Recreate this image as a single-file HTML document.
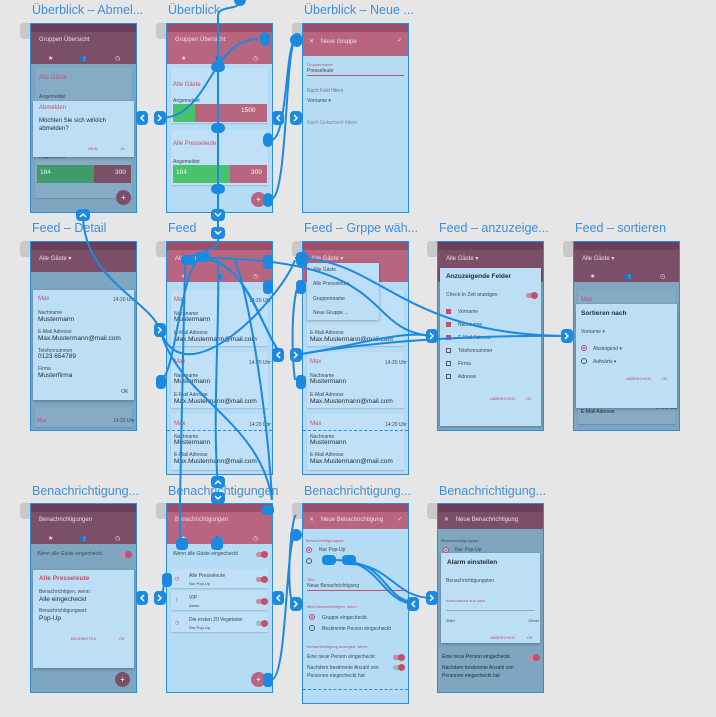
<!DOCTYPE html>
<html><head><meta charset="utf-8"><style>
*{margin:0;padding:0;box-sizing:border-box}
body{width:716px;height:717px;background:#e6e6e6;position:relative;overflow:hidden;font-family:"Liberation Sans","DejaVu Sans",sans-serif}
.t{position:absolute;color:#3a8fe0;font-size:12.5px;white-space:nowrap}
.g{position:absolute;width:30px;height:16px;background:#c9c9c9;border-radius:4px}
.s{position:absolute;width:107px;border:1px solid #2a8ee0;background:#b6dbf4;overflow:hidden}
.s.d{background:#7ea6c1}
.sb{position:absolute;left:0;right:0;top:0;height:8px;background:#9d4f69}
.d .sb{background:#6b3f59}
.hd{position:absolute;left:0;right:0;top:0;height:40px;background:#b8667f}
.d .hd{background:#7c4f69}
.ht{position:absolute;left:8px;top:13px;font-size:6px;color:#f0dde5}
.tab{position:absolute;top:31px;font-size:6px;color:#f0dde5}
.c{position:absolute;left:4px;right:4px;background:#bfe0f7;box-shadow:0 1px 1px rgba(0,0,0,.15)}
.d .c{background:#86abc5}
.dl{position:absolute;left:2px;right:2px;background:#bcdff6;box-shadow:0 1px 3px rgba(0,0,0,.3)}
.x{position:absolute;font-size:5px;color:#3d4a55;white-space:nowrap}
.m{position:absolute;font-size:6.5px;color:#1e2a35;white-space:nowrap}
.r{color:#c0506e}
.fab{position:absolute;width:15px;height:15px;border-radius:50%;background:#b8667f;color:#fff;font-size:8px;text-align:center;line-height:15px}
.d .fab{background:#7c4f69}
.bar{position:absolute;height:18px}
.tg{position:absolute;width:11px;height:5px;border-radius:3px;background:#c98aa0}
.tg:after{content:"";position:absolute;right:-1px;top:-1px;width:7px;height:7px;border-radius:50%;background:#c0506e}
.ck{position:absolute;width:5px;height:5px;border:1px solid #556}
.ck.on{background:#c0506e;border-color:#c0506e}
.rd{position:absolute;width:6px;height:6px;border-radius:50%;border:1px solid #556}
.rd.on{border-color:#c0506e;box-shadow:inset 0 0 0 1px #bcdff6,inset 0 0 0 3px #c0506e}
</style></head><body>

<!-- titles -->
<div class="t" style="left:32px;top:3px">Überblick – Abmel...</div>
<div class="t" style="left:168px;top:3px">Überblick</div>
<div class="t" style="left:304px;top:3px">Überblick – Neue ...</div>
<div class="t" style="left:32px;top:221px">Feed – Detail</div>
<div class="t" style="left:168px;top:221px">Feed</div>
<div class="t" style="left:304px;top:221px">Feed – Grppe wäh...</div>
<div class="t" style="left:439px;top:221px">Feed – anzuzeige...</div>
<div class="t" style="left:575px;top:221px">Feed – sortieren</div>
<div class="t" style="left:32px;top:484px">Benachrichtigung...</div>
<div class="t" style="left:168px;top:484px">Benachrichtigungen</div>
<div class="t" style="left:304px;top:484px">Benachrichtigung...</div>
<div class="t" style="left:439px;top:484px">Benachrichtigung...</div>

<!-- gray placeholders -->
<div class="g" style="left:20px;top:23px"></div><div class="g" style="left:156px;top:23px"></div><div class="g" style="left:292px;top:23px"></div>
<div class="g" style="left:20px;top:241px"></div><div class="g" style="left:156px;top:241px"></div><div class="g" style="left:292px;top:241px"></div><div class="g" style="left:427px;top:241px"></div><div class="g" style="left:563px;top:241px"></div>
<div class="g" style="left:20px;top:503px"></div><div class="g" style="left:156px;top:503px"></div><div class="g" style="left:292px;top:503px"></div><div class="g" style="left:427px;top:503px"></div>

<!-- Row1 A -->
<div class="s d" style="left:30px;top:23px;height:190px">
 <div class="hd"></div><div class="sb"></div><div class="ht">Gruppen Übersicht</div>
 <div class="tab" style="left:17px">★</div><div class="tab" style="left:48px">👥</div><div class="tab" style="left:84px">◷</div>
 <div class="c" style="top:44px;height:130px"></div>
 <div class="x r" style="left:8px;top:51px;font-size:6px">Alle Gäste</div>
 <div class="x" style="left:8px;top:70px">Angemeldet</div>
 <div class="x" style="left:8px;top:130px">Angemeldet</div>
 <div class="bar" style="left:6px;top:141px;width:57px;background:#3f9c6a"></div><div class="bar" style="left:63px;top:141px;width:37px;background:#7c4f69"></div>
 <div class="m" style="left:9px;top:145px;color:#cfe">184</div><div class="m" style="left:84px;top:145px;color:#eee">300</div>
 <div class="dl" style="top:77px;height:56px"></div>
 <div class="x r" style="left:8px;top:81px;font-size:6px">Abmelden</div>
 <div class="m" style="left:8px;top:94px;font-size:6px">Möchten Sie sich wirklich</div>
 <div class="m" style="left:8px;top:102px;font-size:6px">abmelden?</div>
 <div class="x r" style="left:57px;top:122px;font-size:4px">NEIN</div><div class="x r" style="left:89px;top:122px;font-size:4px">JA</div>
 <div class="fab" style="left:85px;top:166px">+</div>
</div>

<!-- Row1 B -->
<div class="s" style="left:166px;top:23px;height:190px">
 <div class="hd"></div><div class="sb"></div><div class="ht">Gruppen Übersicht</div>
 <div class="tab" style="left:14px">★</div><div class="tab" style="left:48px">👥</div><div class="tab" style="left:86px">◷</div>
 <div class="c" style="top:44px;height:55px"></div><div class="c" style="top:106px;height:55px"></div>
 <div class="x r" style="left:6px;top:58px;font-size:6px">Alle Gäste</div>
 <div class="x" style="left:6px;top:74px">Angemeldet</div>
 <div class="bar" style="left:6px;top:80px;width:22px;background:#49c26e"></div><div class="bar" style="left:28px;top:80px;width:72px;background:#b8667f"></div>
 <div class="m" style="left:74px;top:83px;color:#fff">1500</div>
 <div class="x r" style="left:6px;top:117px;font-size:6px">Alle Presseleute</div>
 <div class="x" style="left:6px;top:135px">Angemeldet</div>
 <div class="bar" style="left:6px;top:141px;width:57px;background:#49c26e"></div><div class="bar" style="left:63px;top:141px;width:37px;background:#b8667f"></div>
 <div class="m" style="left:9px;top:145px;color:#e8fff0">184</div><div class="m" style="left:84px;top:145px;color:#fff">300</div>
 <div class="fab" style="left:84px;top:168px">+</div>
</div>

<!-- Row1 C -->
<div class="s" style="left:302px;top:23px;height:190px">
 <div class="hd" style="height:32px"></div><div class="sb"></div><div class="ht" style="left:6px;top:14px">✕ &nbsp;&nbsp;&nbsp;Neue Gruppe</div><div class="ht" style="left:94px;top:13px">✓</div>
 <div class="x r" style="left:4px;top:38px;font-size:4px">Gruppenname</div><div class="x" style="left:4px;top:44px">Presseleute</div>
 <div style="position:absolute;left:4px;right:4px;top:51px;height:1px;background:#c0506e"></div>
 <div class="x" style="left:4px;top:64px;color:#778">Nach Feld filtern</div><div class="x" style="left:4px;top:74px">Vorname ▾</div>
 <div class="x" style="left:4px;top:96px;color:#889">Nach Geburtsort filtern</div>
</div>

<!-- Row2 A -->
<div class="s d" style="left:30px;top:241px;height:190px">
 <div class="hd" style="height:30px"></div><div class="sb"></div><div class="ht">Alle Gäste ▾</div>
 <div class="c" style="top:165px;height:20px"></div><div class="x r" style="left:6px;top:176px">Max</div><div class="x" style="left:82px;top:176px">14:20 Uhr</div>
 <div class="dl" style="top:48px;height:110px"></div>
 <div class="x r" style="left:7px;top:54px;font-size:6px">Max</div><div class="x" style="left:82px;top:55px">14:20 Uhr</div>
 <div class="x" style="left:7px;top:68px">Nachname</div><div class="m" style="left:7px;top:74px">Mustermann</div>
 <div class="x" style="left:7px;top:87px">E-Mail Adresse</div><div class="m" style="left:7px;top:93px">Max.Mustermann@mail.com</div>
 <div class="x" style="left:7px;top:106px">Telefonnummer</div><div class="m" style="left:7px;top:111px">0123 654789</div>
 <div class="x" style="left:7px;top:124px">Firma</div><div class="m" style="left:7px;top:130px">Musterfirma</div>
 <div class="x" style="left:90px;top:147px">OK</div>
</div>

<!-- Row2 B Feed -->
<div class="s" style="left:166px;top:241px;height:234px">
 <div class="hd"></div><div class="sb"></div><div class="ht">Alle Gäste ▾</div>
 <div class="tab" style="left:14px">★</div><div class="tab" style="left:50px">👥</div><div class="tab" style="left:86px">◷</div>
 <div class="c" style="top:48px;height:56px"></div><div class="c" style="top:110px;height:56px"></div><div class="c" style="top:172px;height:56px"></div>
 <div class="x r" style="left:7px;top:55px;font-size:6px">Max</div><div class="x" style="left:82px;top:56px">14:20 Uhr</div>
 <div class="x" style="left:7px;top:69px">Nachname</div><div class="m" style="left:7px;top:74px">Mustermann</div>
 <div class="x" style="left:7px;top:88px">E-Mail Adresse</div><div class="m" style="left:7px;top:94px">Max.Mustermann@mail.com</div>
 <div class="x r" style="left:7px;top:117px;font-size:6px">Max</div><div class="x" style="left:82px;top:118px">14:20 Uhr</div>
 <div class="x" style="left:7px;top:131px">Nachname</div><div class="m" style="left:7px;top:136px">Mustermann</div>
 <div class="x" style="left:7px;top:150px">E-Mail Adresse</div><div class="m" style="left:7px;top:156px">Max.Mustermann@mail.com</div>
 <div class="x r" style="left:7px;top:179px;font-size:6px">Max</div><div class="x" style="left:82px;top:180px">14:20 Uhr</div>
 <div style="position:absolute;left:0;right:0;top:188px;border-top:1px dashed #2a8ee0"></div>
 <div class="x" style="left:7px;top:192px">Nachname</div><div class="m" style="left:7px;top:197px">Mustermann</div>
 <div class="x" style="left:7px;top:210px">E-Mail Adresse</div><div class="m" style="left:7px;top:216px">Max.Mustermann@mail.com</div>
</div>

<!-- Row2 C -->
<div class="s" style="left:302px;top:241px;height:234px">
 <div class="hd"></div><div class="sb"></div><div class="ht">Alle Gäste ▾</div>
 <div class="c" style="top:48px;height:56px"></div><div class="c" style="top:110px;height:56px"></div><div class="c" style="top:172px;height:56px"></div>
 <div class="x" style="left:7px;top:88px">E-Mail Adresse</div><div class="m" style="left:7px;top:94px">Max.Mustermann@mail.com</div>
 <div class="x r" style="left:7px;top:117px;font-size:6px">Max</div><div class="x" style="left:82px;top:118px">14:20 Uhr</div>
 <div class="x" style="left:7px;top:131px">Nachname</div><div class="m" style="left:7px;top:136px">Mustermann</div>
 <div class="x" style="left:7px;top:150px">E-Mail Adresse</div><div class="m" style="left:7px;top:156px">Max.Mustermann@mail.com</div>
 <div class="x r" style="left:7px;top:179px;font-size:6px">Max</div><div class="x" style="left:82px;top:180px">14:20 Uhr</div>
 <div style="position:absolute;left:0;right:0;top:188px;border-top:1px dashed #2a8ee0"></div>
 <div class="x" style="left:7px;top:192px">Nachname</div><div class="m" style="left:7px;top:197px">Mustermann</div>
 <div class="x" style="left:7px;top:210px">E-Mail Adresse</div><div class="m" style="left:7px;top:216px">Max.Mustermann@mail.com</div>
 <div class="dl" style="left:4px;right:29px;top:21px;height:57px"></div>
 <div class="x" style="left:10px;top:25px">Alle Gäste</div><div class="x" style="left:10px;top:39px">Alle Presseleute</div>
 <div class="x" style="left:10px;top:54px">Gruppenname</div><div class="x" style="left:10px;top:68px">Neue Gruppe ...</div>
</div>

<!-- Row2 D -->
<div class="s d" style="left:437px;top:241px;height:190px">
 <div class="hd"></div><div class="sb"></div><div class="ht">Alle Gäste ▾</div>
 <div class="c" style="top:168px;height:20px"></div><div class="x r" style="left:7px;top:178px;font-size:6px">Max</div><div class="x" style="left:82px;top:179px">14:20 Uhr</div>
 <div class="dl" style="top:26px;height:158px"></div>
 <div class="m" style="left:8px;top:31px;font-weight:bold">Anzuzeigende Felder</div>
 <div class="x" style="left:8px;top:50px">Check-In Zeit anzeigen</div><div class="tg" style="left:88px;top:51px"></div>
 <div class="ck on" style="left:8px;top:67px"></div><div class="x" style="left:20px;top:67px">Vorname</div>
 <div class="ck on" style="left:8px;top:80px"></div><div class="x" style="left:20px;top:80px">Nachname</div>
 <div class="ck on" style="left:8px;top:93px"></div><div class="x" style="left:20px;top:93px">E-Mail Adresse</div>
 <div class="ck" style="left:8px;top:106px"></div><div class="x" style="left:20px;top:106px">Telefonnummer</div>
 <div class="ck" style="left:8px;top:119px"></div><div class="x" style="left:20px;top:119px">Firma</div>
 <div class="ck" style="left:8px;top:132px"></div><div class="x" style="left:20px;top:132px">Adresse</div>
 <div class="x r" style="left:52px;top:154px;font-size:4px">ABBRECHEN</div><div class="x r" style="left:88px;top:154px;font-size:4px">OK</div>
</div>

<!-- Row2 E -->
<div class="s d" style="left:573px;top:241px;height:190px">
 <div class="hd"></div><div class="sb"></div><div class="ht">Alle Gäste ▾</div>
 <div class="tab" style="left:16px">★</div><div class="tab" style="left:50px">👥</div><div class="tab" style="left:86px">◷</div>
 <div class="c" style="top:48px;height:100px"></div><div class="c" style="top:152px;height:30px"></div>
 <div class="x r" style="left:7px;top:55px;font-size:6px">Max</div><div class="x r" style="left:7px;top:162px;font-size:6px">Max</div><div class="x" style="left:82px;top:163px">14:20 Uhr</div>
 <div class="dl" style="top:62px;height:104px"></div>
 <div class="m" style="left:7px;top:68px;font-weight:bold">Sortieren nach</div>
 <div class="x" style="left:7px;top:87px">Vorname ▾</div>
 <div class="rd on" style="left:7px;top:103px"></div><div class="x" style="left:19px;top:104px">Absteigend ▾</div>
 <div class="rd" style="left:7px;top:116px"></div><div class="x" style="left:19px;top:117px">Aufwärts ▾</div>
 <div class="x r" style="left:52px;top:134px;font-size:4px">ABBRECHEN</div><div class="x r" style="left:88px;top:134px;font-size:4px">OK</div>
 <div class="x" style="left:7px;top:167px;color:#223">E-Mail Adresse</div>
</div>

<!-- Row3 A -->
<div class="s d" style="left:30px;top:503px;height:190px">
 <div class="hd"></div><div class="sb"></div><div class="ht">Benachrichtigungen</div>
 <div class="tab" style="left:17px">★</div><div class="tab" style="left:48px">👥</div><div class="tab" style="left:84px">◷</div>
 <div class="x" style="left:6px;top:47px">Wenn alle Gäste eingecheckt</div><div class="tg" style="left:89px;top:48px"></div>
 <div class="dl" style="top:66px;height:98px"></div>
 <div class="x r" style="left:8px;top:71px;font-size:6.5px;font-weight:bold">Alle Presseleute</div>
 <div class="x" style="left:8px;top:85px">Benachrichtigen, wenn:</div><div class="m" style="left:8px;top:92px">Alle eingecheckt</div>
 <div class="x" style="left:8px;top:104px">Benachrichtigungsart:</div><div class="m" style="left:8px;top:111px">Pop-Up</div>
 <div class="x r" style="left:40px;top:132px;font-size:4px">BEARBEITEN</div><div class="x r" style="left:88px;top:132px;font-size:4px">OK</div>
 <div class="fab" style="left:84px;top:168px">+</div>
</div>

<!-- Row3 B -->
<div class="s" style="left:166px;top:503px;height:190px">
 <div class="hd"></div><div class="sb"></div><div class="ht">Benachrichtigungen</div>
 <div class="tab" style="left:14px">★</div><div class="tab" style="left:48px">👥</div><div class="tab" style="left:86px">◷</div>
 <div class="x" style="left:6px;top:47px">Wenn alle Gäste eingecheckt</div><div class="tg" style="left:89px;top:48px"></div>
 <div class="c" style="top:65px;height:19px"></div><div class="c" style="top:87px;height:19px"></div><div class="c" style="top:109px;height:19px"></div>
 <div class="x r" style="left:8px;top:72px">◷</div><div class="x" style="left:22px;top:69px">Alle Presseleute</div><div class="x" style="left:22px;top:77px;font-size:4px">Nur Pop-Up</div><div class="tg" style="left:89px;top:73px"></div>
 <div class="x r" style="left:9px;top:94px;font-size:6px">!</div><div class="x" style="left:22px;top:91px">VIP</div><div class="x" style="left:22px;top:99px;font-size:4px">Alarm</div><div class="tg" style="left:89px;top:95px"></div>
 <div class="x r" style="left:8px;top:116px">◷</div><div class="x" style="left:22px;top:113px">Die ersten 20 Vegetarier</div><div class="x" style="left:22px;top:121px;font-size:4px">Nur Pop-Up</div><div class="tg" style="left:89px;top:117px;background:#9bb"></div>
 <div class="fab" style="left:84px;top:168px">+</div>
</div>

<!-- Row3 C -->
<div class="s" style="left:302px;top:503px;height:201px">
 <div class="hd" style="height:25px"></div><div class="sb"></div><div class="ht" style="left:6px;top:12px">✕ &nbsp;&nbsp;&nbsp;Neue Benachrichtigung</div><div class="ht" style="left:94px;top:12px">✓</div>
 <div class="x r" style="left:3px;top:34px;font-size:4px">Benachrichtigungsart</div>
 <div class="rd on" style="left:3px;top:43px"></div><div class="x" style="left:16px;top:43px">Nur Pop-Up</div>
 <div class="rd" style="left:3px;top:54px"></div>
 <div class="x r" style="left:4px;top:73px;font-size:4px">Titel</div><div class="x" style="left:4px;top:79px">Neue Benachrichtigung</div>
 <div style="position:absolute;left:4px;right:4px;top:86px;height:1px;background:#c0506e"></div>
 <div class="x r" style="left:4px;top:100px;font-size:4px">Mich benachrichtigen, wenn:</div>
 <div class="rd on" style="left:6px;top:110px"></div><div class="x" style="left:19px;top:111px">Gruppe eingecheckt</div>
 <div class="rd" style="left:6px;top:121px"></div><div class="x" style="left:19px;top:122px">Bestimmte Person eingecheckt</div>
 <div class="x r" style="left:4px;top:140px;font-size:4px">Benachrichtigung anzeigen, wenn:</div>
 <div class="x" style="left:4px;top:150px">Eine neue Person eingecheckt</div><div class="tg" style="left:90px;top:151px"></div>
 <div class="x" style="left:4px;top:161px">Nachdem bestimmte Anzahl von</div><div class="tg" style="left:90px;top:161px;background:#9bb"></div>
 <div class="x" style="left:4px;top:169px">Personen eingecheckt hat</div>
 <div style="position:absolute;left:0;right:0;top:185px;border-top:1px dashed #2a8ee0"></div>
</div>

<!-- Row3 D -->
<div class="s d" style="left:437px;top:503px;height:190px">
 <div class="hd" style="height:25px"></div><div class="sb"></div><div class="ht" style="left:6px;top:12px">✕ &nbsp;&nbsp;&nbsp;Neue Benachrichtigung</div>
 <div class="x" style="left:3px;top:34px;font-size:4px">Benachrichtigungsart</div>
 <div class="rd on" style="left:5px;top:43px"></div><div class="x" style="left:17px;top:43px">Nur Pop-Up</div>
 <div class="x" style="left:4px;top:150px;color:#1e2a35">Eine neue Person eingecheckt</div><div class="tg" style="left:90px;top:151px"></div>
 <div class="x" style="left:4px;top:161px;color:#1e2a35">Nachdem bestimmte Anzahl von</div>
 <div class="x" style="left:4px;top:169px;color:#1e2a35">Personen eingecheckt hat</div>
 <div class="dl" style="left:3px;right:3px;top:49px;height:90px"></div>
 <div class="m" style="left:9px;top:55px;font-weight:bold">Alarm einstellen</div>
 <div class="x" style="left:8px;top:74px">Benachrichtigungston</div>
 <div class="x r" style="left:8px;top:94px;font-size:4px">Automatisch aus nach</div>
 <div style="position:absolute;left:8px;right:8px;top:106px;height:1px;background:#9ab"></div>
 <div class="x" style="left:8px;top:114px;font-size:4px">0Min</div><div class="x" style="left:90px;top:114px;font-size:4px">10min</div>
 <div class="x r" style="left:52px;top:131px;font-size:4px">ABBRECHEN</div><div class="x r" style="left:89px;top:131px;font-size:4px">OK</div>
</div>

<!-- connectors -->
<svg width="716" height="717" style="position:absolute;left:0;top:0" fill="none" stroke="#1a8ae0" stroke-width="2">
 <!-- row1 -->
 <path d="M240 0 C240 12 218 4 218 16 L218 241"/>
 <path d="M258 39 C210 39 210 118 160 118"/>
 <path d="M271 199 C288 199 285 40 296 40"/>
 <path d="M271 140 C288 140 285 40 296 40"/>
 <path d="M83 214 C83 280 150 300 160 330"/>
 <!-- feed -->
 <path d="M218 241 C218 255 185 250 185 265 L180 500 L180 545"/>
 <path d="M196 258 C240 258 250 300 280 355"/>
 <path d="M200 258 C250 262 260 330 282 355"/>
 <path d="M218 260 C220 320 212 420 218 485"/>
 <path d="M235 260 C250 300 268 420 272 500"/>
 <path d="M160 330 C180 400 260 420 272 500"/>
 <path d="M160 330 C185 400 280 300 295 260"/>
 <path d="M160 380 C175 380 180 270 200 258"/>
 <path d="M200 258 C400 258 360 330 432 336"/>
 <path d="M295 258 C380 258 400 335 567 336"/>
 <path d="M295 355 C380 340 480 335 567 336"/>
 <path d="M295 355 C360 345 400 330 432 336"/>
 <path d="M300 280 C290 300 292 360 295 380"/>
 <!-- row3 -->
 <path d="M160 598 C165 598 160 578 172 578"/>
 <path d="M271 680 C288 680 285 535 296 535"/>
 <path d="M295 605 C285 605 290 520 296 515"/>
 <path d="M335 560 C380 560 380 600 413 604"/>
 <path d="M345 562 C385 562 385 600 413 602"/>
 <path d="M350 564 C390 564 395 598 432 598"/>
 <path d="M32 600 C40 600 30 560 20 560" stroke-width="0"/>
 <g fill="#1a8ae0" stroke="none">
  <rect x="260" y="32" width="10" height="14" rx="5"/>
  <rect x="211" y="62" width="14" height="10" rx="5"/>
  <rect x="211" y="123" width="14" height="10" rx="5"/>
  <rect x="211" y="184" width="14" height="10" rx="5"/>
  <rect x="263" y="133" width="10" height="14" rx="5"/>
  <rect x="263" y="193" width="10" height="14" rx="5"/>
  <rect x="292" y="33" width="10" height="14" rx="5"/>
  <rect x="181" y="255" width="14" height="10" rx="4"/>
  <rect x="196" y="252" width="14" height="10" rx="4"/>
  <rect x="263" y="255" width="10" height="14" rx="4"/>
  <rect x="263" y="280" width="10" height="14" rx="4"/>
  <rect x="296" y="252" width="12" height="14" rx="4"/>
  <rect x="296" y="280" width="10" height="14" rx="4"/>
  <rect x="296" y="375" width="10" height="14" rx="4"/>
  <rect x="156" y="375" width="10" height="14" rx="4"/>
  <rect x="176" y="538" width="12" height="12" rx="4"/>
  <rect x="211" y="538" width="12" height="12" rx="4"/>
  <rect x="262" y="505" width="12" height="10" rx="4"/>
  <rect x="162" y="573" width="10" height="14" rx="4"/>
  <rect x="263" y="673" width="10" height="14" rx="4"/>
  <rect x="322" y="555" width="14" height="10" rx="4"/>
  <rect x="342" y="555" width="14" height="10" rx="4"/>
  <circle cx="240" cy="0" r="6"/>
  <circle cx="296" cy="535" r="6"/>
  <circle cx="296" cy="40" r="6"/>
  <!-- arrow handles -->
  <rect x="136" y="111" width="12" height="14" rx="4"/><rect x="154" y="111" width="12" height="14" rx="4"/>
  <rect x="272" y="111" width="12" height="14" rx="4"/><rect x="290" y="111" width="12" height="14" rx="4"/>
  <rect x="76" y="209" width="14" height="12" rx="4"/>
  <rect x="211" y="209" width="14" height="12" rx="4"/><rect x="211" y="227" width="14" height="12" rx="4"/>
  <rect x="154" y="323" width="12" height="14" rx="4"/>
  <rect x="272" y="348" width="12" height="14" rx="4"/><rect x="290" y="348" width="12" height="14" rx="4"/>
  <rect x="426" y="329" width="12" height="14" rx="4"/><rect x="561" y="329" width="12" height="14" rx="4"/>
  <rect x="211" y="476" width="14" height="12" rx="4"/><rect x="211" y="492" width="14" height="12" rx="4"/>
  <rect x="136" y="591" width="12" height="14" rx="4"/><rect x="154" y="591" width="12" height="14" rx="4"/>
  <rect x="272" y="591" width="12" height="14" rx="4"/><rect x="290" y="597" width="12" height="14" rx="4"/>
  <rect x="407" y="597" width="12" height="14" rx="4"/><rect x="426" y="591" width="12" height="14" rx="4"/>
 </g>
 <g stroke="#fff" stroke-width="1.5">
  <path d="M144 115 l-3 3 l3 3"/><path d="M158 115 l3 3 l-3 3"/>
  <path d="M280 115 l-3 3 l3 3"/><path d="M294 115 l3 3 l-3 3"/>
  <path d="M80 217 l3 -3 l3 3"/>
  <path d="M215 213 l3 3 l3 -3"/><path d="M215 231 l3 3 l3 -3"/>
  <path d="M158 327 l3 3 l-3 3"/>
  <path d="M280 352 l-3 3 l3 3"/><path d="M294 352 l3 3 l-3 3"/>
  <path d="M430 333 l3 3 l-3 3"/><path d="M565 333 l3 3 l-3 3"/>
  <path d="M215 484 l3 -3 l3 3"/><path d="M215 496 l3 3 l3 -3"/>
  <path d="M144 595 l-3 3 l3 3"/><path d="M158 595 l3 3 l-3 3"/>
  <path d="M280 595 l-3 3 l3 3"/><path d="M294 601 l3 3 l-3 3"/>
  <path d="M415 601 l-3 3 l3 3"/><path d="M430 595 l3 3 l-3 3"/>
 </g>
</svg>
</body></html>
